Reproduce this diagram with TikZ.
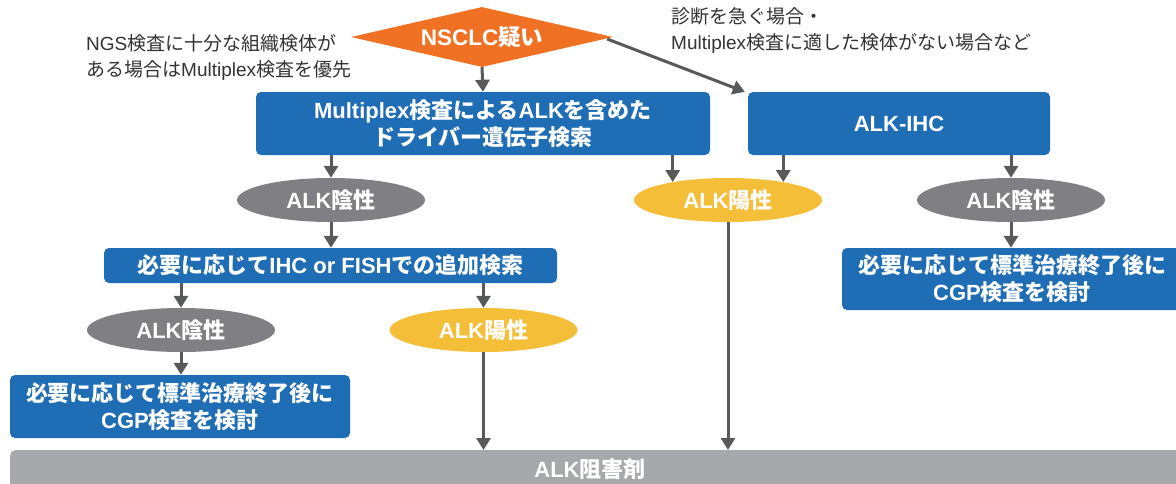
\documentclass[tikz,border=0pt]{standalone}
\usepackage{fontspec}
\setmainfont{Noto Sans CJK JP}
\newfontfamily\latfont{Liberation Sans}
\newcommand\LA[1]{{\latfont #1}}
\usetikzlibrary{shapes.geometric,arrows.meta,calc}
\definecolor{cblue}{HTML}{1F6DB5}
\definecolor{corange}{HTML}{F07124}
\definecolor{cyellow}{HTML}{F4BE38}
\definecolor{cgray}{HTML}{808084}
\definecolor{cbar}{HTML}{A7A8AB}
\definecolor{carrow}{HTML}{58595B}
\definecolor{ctext}{HTML}{333333}
\tikzset{
  bfont/.style={font=\bfseries\fontsize{22}{27}\selectfont},
  bluebox/.style={fill=cblue, rounded corners=5pt, text=white, bfont, align=center, inner sep=0pt},
  oval/.style={ellipse, text=white, bfont, inner sep=0pt, minimum width=188pt, minimum height=44pt},
  negoval/.style={oval, fill=cgray},
  posoval/.style={oval, fill=cyellow},
  arr/.style={draw=carrow, line width=3pt, -{Triangle[width=14pt,length=12pt]}},
  note/.style={text=ctext, font=\fontsize{19}{26}\selectfont, align=left, inner sep=0pt},
}
\begin{document}
\begin{tikzpicture}[x=1pt,y=-1pt]
\useasboundingbox (0,0) rectangle (1176,483);
% diamond
\node[diamond, fill=corange, aspect=4.4, minimum width=262pt, minimum height=60pt, inner sep=0pt, text=white, font=\bfseries\fontsize{22.5}{24}\selectfont] (start) at (482,37) {\LA{NSCLC}疑い};
% notes
\node[note, anchor=north west] (n1) at (86,34) {\LA{NGS}検査に十分な組織検体が\\ある場合は\LA{Multiplex}検査を優先};
\node[note, anchor=north west] (n2) at (671,7) {診断を急ぐ場合・\\\LA{Multiplex}検査に適した検体がない場合など};
% boxes
\node[bluebox, minimum width=454pt, minimum height=63pt] (mp) at (483,123.5) {\LA{Multiplex}検査による\LA{ALK}を含めた\\ドライバー遺伝子検索};
\node[bluebox, minimum width=302pt, minimum height=63pt] (ihc) at (899,123.5) {\LA{ALK-IHC}};
\node[negoval] (neg1) at (331,200) {\LA{ALK}陰性};
\node[posoval] (pos1) at (728,200) {\LA{ALK}陽性};
\node[negoval] (neg2) at (1011,200) {\LA{ALK}陰性};
\node[bluebox, minimum width=453pt, minimum height=35pt] (add) at (330.5,265.5) {必要に応じて\LA{IHC or FISH}での追加検索};
\node[negoval] (neg3) at (181,330) {\LA{ALK}陰性};
\node[posoval] (pos2) at (483.5,330) {\LA{ALK}陽性};
\node[bluebox, minimum width=340pt, minimum height=63pt] (cgp1) at (180,406.5) {必要に応じて標準治療終了後に\\\LA{CGP}検査を検討};
\node[bluebox, minimum width=340pt, minimum height=62pt] (cgp2) at (1012,279) {必要に応じて標準治療終了後に\\\LA{CGP}検査を検討};
% bar
\node[fill=cbar, rounded corners=5pt, minimum width=1172pt, minimum height=44pt, inner sep=0pt, anchor=north west] (bar) at (10,450) {};
\node[text=white, bfont, inner sep=0pt] (bartxt) at (590,469) {\LA{ALK}阻害剤};
% arrows
\draw[arr] (start.south) -- (mp.north);
\coordinate (ihcin) at ($(ihc.north west)+(-3,0)$);
\draw[arr] ($(start.east)+(-6,2)$) -- (ihcin);
\draw[arr] (mp.south -| neg1.north) -- (neg1.north);
\draw[arr] (mp.south -| pos1.162) -- (pos1.162);
\draw[arr] (ihc.south -| pos1.18) -- (pos1.18);
\draw[arr] (ihc.south -| neg2.north) -- (neg2.north);
\draw[arr] (neg1.south) -- (neg1.south |- add.north);
\draw[arr] (neg2.south) -- (neg2.south |- cgp2.north);
\draw[arr] (add.south -| neg3.north) -- (neg3.north);
\draw[arr] (add.south -| pos2.north) -- (pos2.north);
\draw[arr] (neg3.south) -- (neg3.south |- cgp1.north);
\draw[arr] (pos2.south) -- (pos2.south |- bar.north);
\draw[arr] (pos1.south) -- (pos1.south |- bar.north);
\end{tikzpicture}
\end{document}
